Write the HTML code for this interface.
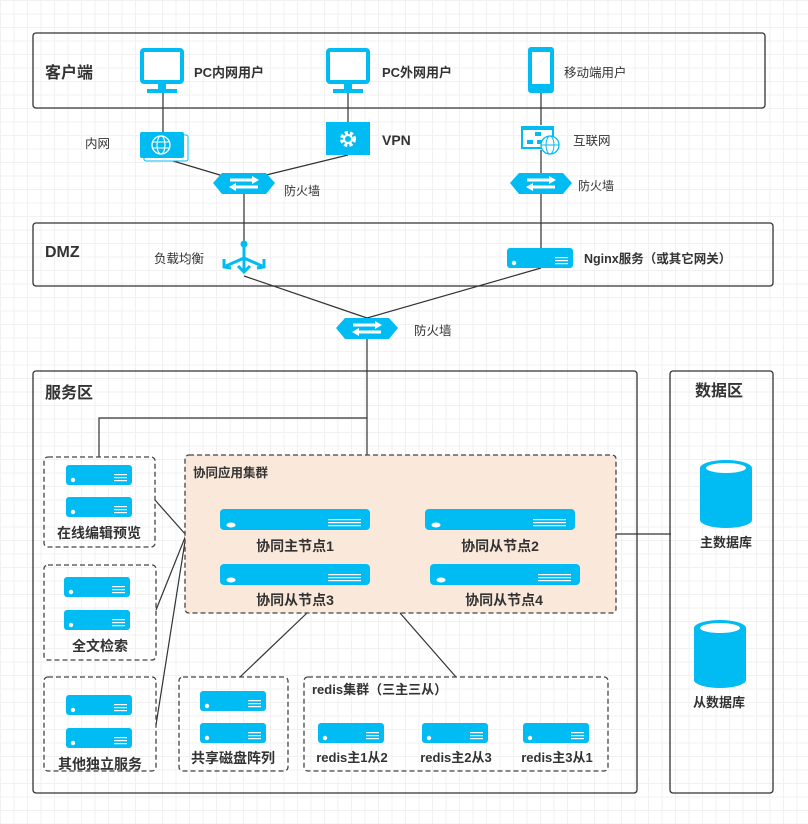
<!DOCTYPE html>
<html><head><meta charset="utf-8"><style>
html,body{margin:0;padding:0}
body{width:808px;height:819px;overflow:hidden;background:#fff;
background-image:linear-gradient(#f1f1f1 1px,transparent 1px),linear-gradient(90deg,#f1f1f1 1px,transparent 1px);background-size:13.5px 13.5px;}
svg text{font-family:"Liberation Sans","Noto Sans CJK SC",sans-serif;fill:#333}
</style></head><body>
<svg width="808" height="819" xmlns="http://www.w3.org/2000/svg">
<defs>
<g id="srv">
<rect x="0" y="0" width="66" height="20" rx="3" fill="#00bcf2"/>
<circle cx="7" cy="15" r="2.2" fill="#fff"/>
<rect x="48" y="9" width="13" height="1.2" fill="#fff"/><rect x="48" y="12" width="13" height="1.2" fill="#fff"/><rect x="48" y="15" width="13" height="1.2" fill="#fff"/>
</g>
<g id="srvw">
<rect x="0" y="0" width="150" height="21" rx="4" fill="#00bcf2"/>
<ellipse cx="11" cy="16" rx="4.5" ry="2.5" fill="#fff"/>
<rect x="108" y="10" width="33" height="1.2" fill="#fff"/><rect x="108" y="13" width="33" height="1.2" fill="#fff"/><rect x="108" y="16" width="33" height="1.2" fill="#fff"/>
</g>
<g id="fw">
<polygon points="-31,0 -22,-10 22,-10 31,0 22,11 -22,11" fill="#00bcf2"/>
<path d="M-14,-3 L8,-3 M-8,4 L14,4" stroke="#fff" stroke-width="3"/>
<polygon points="8,-7 15,-3 8,1" fill="#fff"/><polygon points="-8,0 -15,4 -8,8" fill="#fff"/>
</g>
<g id="mon">
<rect x="2" y="2" width="40" height="32" rx="2" fill="#fff" stroke="#00bcf2" stroke-width="4"/>
<rect x="18" y="35" width="8" height="7" fill="#00bcf2"/>
<rect x="7" y="41" width="30" height="4" fill="#00bcf2"/>
</g>
</defs>
<g fill="none" stroke="#333" stroke-width="1.3">
<rect x="33" y="33" width="732" height="75" rx="3"/>
<rect x="33" y="223" width="740" height="63" rx="3"/>
<rect x="33" y="371" width="604" height="422" rx="3"/>
<rect x="670" y="371" width="103" height="422" rx="3"/>
</g>
<g stroke="#333" stroke-width="1.2" fill="none">
<line x1="163" y1="93" x2="163" y2="132"/><line x1="348" y1="93" x2="348" y2="122"/><line x1="541" y1="93" x2="541" y2="125"/>
<line x1="163" y1="158" x2="230" y2="178"/><line x1="348" y1="155" x2="258" y2="177"/>
<line x1="244" y1="190" x2="244" y2="245"/><line x1="541" y1="150" x2="541" y2="250"/>
<line x1="244" y1="276" x2="367" y2="318"/><line x1="541" y1="268" x2="367" y2="318"/>
<line x1="367" y1="335" x2="367" y2="455"/>
<polyline points="367,418 99,418 99,457"/>
<line x1="155" y1="500" x2="186" y2="535"/><line x1="156" y1="610" x2="186" y2="535"/><line x1="156" y1="725" x2="186" y2="535"/>
<line x1="616" y1="534" x2="671" y2="534"/>
<line x1="307" y1="613" x2="240" y2="677"/><line x1="400" y1="613" x2="456" y2="677"/>
</g>
<g stroke="#444" stroke-width="1.3" stroke-dasharray="5,3" fill="none">
<rect x="185" y="455" width="431" height="158" rx="4" fill="#fae8da"/>
<rect x="44" y="457" width="111" height="90" rx="4"/>
<rect x="44" y="565" width="112" height="95" rx="4"/>
<rect x="44" y="677" width="112" height="94" rx="4"/>
<rect x="179" y="677" width="109" height="94" rx="4"/>
<rect x="304" y="677" width="304" height="94" rx="4"/>
</g>
<!-- client icons -->
<use href="#mon" x="140" y="48"/>
<use href="#mon" x="326" y="48"/>
<rect x="528" y="47" width="26" height="46" rx="3" fill="#00bcf2"/>
<rect x="532" y="52" width="18" height="32" fill="#fff"/>
<rect x="543" y="136" width="0" height="0"/>
<!-- 内网 -->
<rect x="144" y="135" width="44" height="26" rx="2" fill="#fff" stroke="#00bcf2"/>
<rect x="140" y="132" width="44" height="26" rx="2" fill="#00bcf2"/>
<circle cx="161" cy="145" r="9" fill="none" stroke="#fff" stroke-width="1.3"/>
<ellipse cx="161" cy="145" rx="4" ry="9" fill="none" stroke="#fff" stroke-width="1.1"/>
<line x1="152" y1="142" x2="170" y2="142" stroke="#fff"/><line x1="152" y1="148" x2="170" y2="148" stroke="#fff"/>
<!-- VPN -->
<rect x="326" y="122" width="44" height="33" fill="#00bcf2"/>
<circle cx="348" cy="139" r="6" fill="none" stroke="#fff" stroke-width="4" stroke-dasharray="3,2"/>
<circle cx="348" cy="139" r="4" fill="none" stroke="#fff" stroke-width="2"/>
<!-- 互联网 -->
<rect x="521" y="126" width="33" height="23" fill="#00bcf2"/>
<rect x="523" y="130" width="29" height="17" fill="#fff"/>
<rect x="535" y="132" width="6" height="4" fill="#00bcf2"/><rect x="527" y="140" width="6" height="4" fill="#00bcf2"/><rect x="537" y="140" width="6" height="4" fill="#00bcf2"/>
<circle cx="550" cy="145" r="9" fill="#fff" stroke="#00bcf2" stroke-width="1.3"/>
<ellipse cx="550" cy="145" rx="4" ry="9" fill="none" stroke="#00bcf2"/>
<line x1="541" y1="145" x2="559" y2="145" stroke="#00bcf2"/>
<use href="#fw" x="244" y="183"/>
<use href="#fw" x="541" y="183"/>
<use href="#fw" x="367" y="328"/>
<!-- LB -->
<circle cx="244" cy="244" r="3.5" fill="#00bcf2"/>
<g stroke="#00bcf2" stroke-width="3" fill="none">
<line x1="244" y1="246" x2="244" y2="272"/><line x1="244" y1="258" x2="226" y2="266"/><line x1="244" y1="258" x2="262" y2="266"/>
<polyline points="238,266 244,272 250,266"/><polyline points="224,259 224,267 231,268"/><polyline points="264,259 264,267 257,268"/>
</g>
<use href="#srv" x="507" y="248"/>
<!-- left servers -->
<use href="#srv" x="66" y="465"/><use href="#srv" x="66" y="497"/>
<use href="#srv" x="64" y="577" transform="translate(0,0)"/><use href="#srv" x="64" y="610"/>
<use href="#srv" x="66" y="695"/><use href="#srv" x="66" y="728"/>
<use href="#srv" x="200" y="691"/><use href="#srv" x="200" y="723"/>
<use href="#srv" x="318" y="723"/><use href="#srv" x="422" y="723"/><use href="#srv" x="523" y="723"/>
<use href="#srvw" x="220" y="509"/><use href="#srvw" x="425" y="509"/>
<use href="#srvw" x="220" y="564"/><use href="#srvw" x="430" y="564"/>
<!-- DBs -->
<g fill="#00bcf2">
<rect x="700" y="468" width="52" height="52"/><ellipse cx="726" cy="520" rx="26" ry="8"/><ellipse cx="726" cy="468" rx="26" ry="8"/>
<rect x="694" y="628" width="52" height="52"/><ellipse cx="720" cy="680" rx="26" ry="8"/><ellipse cx="720" cy="628" rx="26" ry="8"/>
</g>
<ellipse cx="726" cy="468" rx="20" ry="5" fill="#fff"/><ellipse cx="720" cy="628" rx="20" ry="5" fill="#fff"/>
<!-- text -->
<g font-weight="bold">
<text x="45" y="78" font-size="16">客户端</text>
<text x="194" y="77" font-size="13">PC内网用户</text>
<text x="382" y="77" font-size="13">PC外网用户</text>
<text x="564" y="77" font-size="12.5" font-weight="normal">移动端用户</text>
<text x="382" y="145" font-size="14">VPN</text>
<text x="45" y="257" font-size="16">DMZ</text>
<text x="584" y="263" font-size="12.5">Nginx服务（或其它网关）</text>
<text x="45" y="398" font-size="16">服务区</text>
<text x="695" y="396" font-size="16">数据区</text>
<text x="193" y="477" font-size="12.5">协同应用集群</text>
<text x="295" y="551" font-size="14" text-anchor="middle">协同主节点1</text>
<text x="500" y="551" font-size="14" text-anchor="middle">协同从节点2</text>
<text x="295" y="605" font-size="14" text-anchor="middle">协同从节点3</text>
<text x="504" y="605" font-size="14" text-anchor="middle">协同从节点4</text>
<text x="99" y="538" font-size="14" text-anchor="middle">在线编辑预览</text>
<text x="100" y="651" font-size="14" text-anchor="middle">全文检索</text>
<text x="100" y="769" font-size="14" text-anchor="middle">其他独立服务</text>
<text x="233" y="763" font-size="14" text-anchor="middle">共享磁盘阵列</text>
<text x="312" y="694" font-size="13">redis集群（三主三从）</text>
<text x="352" y="762" font-size="13" text-anchor="middle">redis主1从2</text>
<text x="456" y="762" font-size="13" text-anchor="middle">redis主2从3</text>
<text x="557" y="762" font-size="13" text-anchor="middle">redis主3从1</text>
<text x="726" y="547" font-size="13" text-anchor="middle">主数据库</text>
<text x="719" y="707" font-size="13" text-anchor="middle">从数据库</text>
</g>
<g font-size="12.5">
<text x="85" y="148">内网</text>
<text x="573" y="145">互联网</text>
<text x="284" y="195" font-size="12">防火墙</text>
<text x="578" y="190" font-size="12">防火墙</text>
<text x="154" y="263">负载均衡</text>
<text x="414" y="335">防火墙</text>
</g>
</svg>
</body></html>
